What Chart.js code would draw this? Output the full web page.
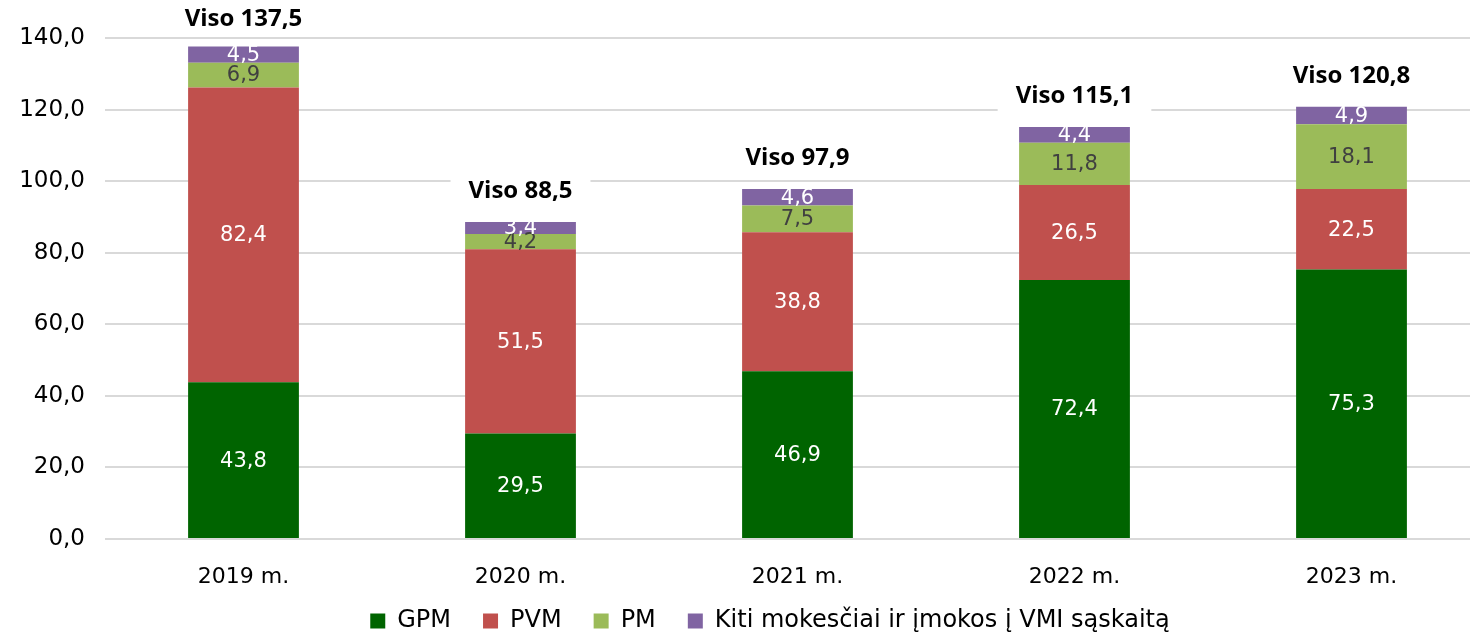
<!DOCTYPE html>
<html lang="lt">
<head>
<meta charset="UTF-8">
<title>Mokesčiai</title>
<script src="https://cdn.jsdelivr.net/npm/chart.js"></script>
<style>
  body { margin: 0; overflow: hidden; background: #fff; }
  #wrap { position: absolute; left: 0; top: 0; width: 1490px; height: 633px; }
</style>
</head>
<body>
<div id="wrap"><canvas id="taxChart"></canvas></div>
<script>
const years = ['2019 m.', '2020 m.', '2021 m.', '2022 m.', '2023 m.'];
const gpm = [43.8, 29.5, 46.9, 72.4, 75.3];
const pvm = [82.4, 51.5, 38.8, 26.5, 22.5];
const pm = [6.9, 4.2, 7.5, 11.8, 18.1];
const kiti = [4.5, 3.4, 4.6, 4.4, 4.9];
const totals = [137.5, 88.5, 97.9, 115.1, 120.8];
const yTicks = [0, 20, 40, 60, 80, 100, 120, 140];

const fmt = v => v.toFixed(1).replace('.', ',');
const sans = '"DejaVu Sans", sans-serif';
const noClip = () => undefined; // let tick labels spill outside their box

// segment values + "Viso" totals over each bar
const labelPlugin = {
  id: 'barLabels',
  beforeLayout(chart) {
    // fixed legend height so the plot bottom lands where the original is
    const lg = chart.legend;
    if (lg && !lg._fixed) {
      const orig = lg.fit;
      lg.fit = function () { orig.call(this); this.height = 56; };
      lg._fixed = true;
    }
  },
  afterDatasetsDraw(chart) {
    const ctx = chart.ctx;
    ctx.save();
    ctx.textAlign = 'center';
    ctx.textBaseline = 'middle';
    chart.data.datasets.forEach((ds, i) => {
      const meta = chart.getDatasetMeta(i);
      meta.data.forEach((bar, j) => {
        const mid = (bar.y + bar.base) / 2;
        ctx.font = '21px ' + sans;
        ctx.fillStyle = i === 2 ? '#404040' : '#ffffff';
        ctx.fillText(fmt(ds.data[j]), bar.x, mid + 1);
      });
    });
    const top = chart.getDatasetMeta(3);
    top.data.forEach((bar, j) => {
      const txt = 'Viso ' + fmt(totals[j]);
      ctx.font = 'bold 24px "Open Sans", sans-serif';
      const w = ctx.measureText(txt).width;
      const y = Math.max(bar.y - 31, 19);
      ctx.fillStyle = '#ffffff';
      ctx.fillRect(bar.x - w / 2 - 18, y - 17, w + 36, 34);
      ctx.fillStyle = '#000000';
      ctx.fillText(txt, bar.x, y);
    });
    ctx.restore();
  }
};

const mk = (label, data, color) => ({
  label: label, data: data, backgroundColor: color,
  barPercentage: 0.8, categoryPercentage: 0.5
});

new Chart(document.getElementById('taxChart'), {
  type: 'bar',
  data: {
    labels: years,
    datasets: [
      mk('GPM', gpm, '#006400'),
      mk('PVM', pvm, '#c0504d'),
      mk('PM', pm, '#9bbb59'),
      mk('Kiti mokesčiai ir įmokos į VMI sąskaitą', kiti, '#8064a2')
    ]
  },
  options: {
    responsive: true,
    maintainAspectRatio: false,
    animation: false,
    layout: { padding: { top: 38, right: 0, left: 50, bottom: 0 } },
    plugins: {
      tooltip: { enabled: false },
      legend: {
        position: 'bottom',
        labels: {
          font: { family: sans, size: 24 },
          color: '#000',
          boxWidth: 15, boxHeight: 15,
          padding: 32
        }
      }
    },
    scales: {
      x: {
        stacked: true,
        grid: { display: false },
        border: { display: false },
        ticks: { font: { family: sans, size: 22 }, color: '#000', padding: 17 },
        afterFit: s => { s.height = 38; s._computeLabelArea = noClip; }
      },
      y: {
        stacked: true,
        min: 0, max: 140,
        afterBuildTicks: s => { s.ticks = yTicks.map(v => ({ value: v })); },
        grid: { color: '#d9d9d9', lineWidth: 2, drawTicks: false },
        border: { display: false },
        ticks: {
          font: { family: sans, size: 23 }, color: '#000', padding: 20,
          callback: v => fmt(v)
        },
        afterFit: s => { s.width = 55; s._computeLabelArea = noClip; }
      }
    }
  },
  plugins: [labelPlugin]
});
</script>
</body>
</html>
